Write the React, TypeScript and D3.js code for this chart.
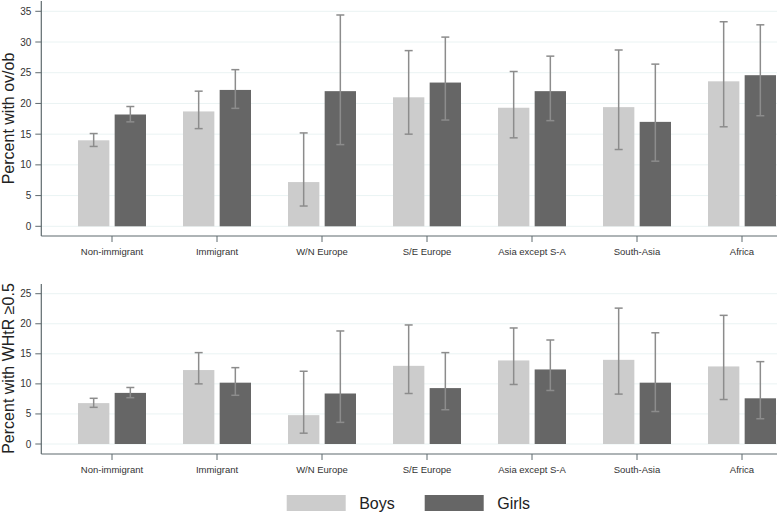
import React, { useEffect, useRef } from 'react';
import * as d3 from 'd3';

const categories = ['Non-immigrant', 'Immigrant', 'W/N Europe', 'S/E Europe', 'Asia except S-A', 'South-Asia', 'Africa'];
const seriesNames = ['Boys', 'Girls'];

// top panel, percent with ov/ob
const ovobBoys = [14.0, 18.7, 7.2, 21.0, 19.3, 19.4, 23.6];
const ovobBoysLow = [13.0, 15.9, 3.3, 15.0, 14.4, 12.5, 16.2];
const ovobBoysHigh = [15.1, 22.0, 15.2, 28.6, 25.2, 28.7, 33.3];
const ovobGirls = [18.2, 22.2, 22.0, 23.4, 22.0, 17.0, 24.6];
const ovobGirlsLow = [17.0, 19.2, 13.3, 17.3, 17.2, 10.6, 18.0];
const ovobGirlsHigh = [19.5, 25.5, 34.4, 30.8, 27.7, 26.4, 32.8];
const ovobTicks = [0, 5, 10, 15, 20, 25, 30, 35];

// bottom panel, percent with WHtR >= 0.5
const whtrBoys = [6.8, 12.3, 4.8, 13.0, 13.9, 14.0, 12.9];
const whtrBoysLow = [6.1, 10.0, 1.8, 8.4, 9.9, 8.3, 7.4];
const whtrBoysHigh = [7.6, 15.2, 12.1, 19.8, 19.3, 22.6, 21.4];
const whtrGirls = [8.5, 10.2, 8.4, 9.3, 12.4, 10.2, 7.6];
const whtrGirlsLow = [7.7, 8.1, 3.6, 5.7, 8.9, 5.4, 4.2];
const whtrGirlsHigh = [9.4, 12.7, 18.8, 15.2, 17.3, 18.5, 13.7];
const whtrTicks = [0, 5, 10, 15, 20, 25];

const width = 777;
const height = 514;
const fontFamily = '"Liberation Sans", Arial, sans-serif';
const colors = ['#cccccc', '#666666'];
const axisColor = '#5f6a6e';
const textColor = '#333333';
const whiskerColor = '#8c8c8c';
const gridColor = '#eaf3f3';

interface Panel {
  title: string;
  ticks: number[];
  domainMax: number;
  y0: number; // pixel of value 0
  yMax: number; // pixel of domainMax
  axisY: number;
  axisTop: number;
  titleY: number;
  series: { value: number[]; low: number[]; high: number[] }[];
}

const panels: Panel[] = [
  {
    title: 'Percent with ov/ob',
    ticks: ovobTicks,
    domainMax: 35,
    y0: 226.3,
    yMax: 11.3,
    axisY: 236,
    axisTop: 1,
    titleY: 118.5,
    series: [
      { value: ovobBoys, low: ovobBoysLow, high: ovobBoysHigh },
      { value: ovobGirls, low: ovobGirlsLow, high: ovobGirlsHigh },
    ],
  },
  {
    title: 'Percent with WHtR ≥0.5',
    ticks: whtrTicks,
    domainMax: 25,
    y0: 444,
    yMax: 293.7,
    axisY: 454,
    axisTop: 284,
    titleY: 368.5,
    series: [
      { value: whtrBoys, low: whtrBoysLow, high: whtrBoysHigh },
      { value: whtrGirls, low: whtrGirlsLow, high: whtrGirlsHigh },
    ],
  },
];

const App: React.FC = () => {
  const svgRef = useRef<SVGSVGElement>(null);

  useEffect(() => {
    if (!svgRef.current) return;

    const svg = d3.select(svgRef.current);
    svg.selectAll('*').remove();

    const axisX = 41.3;

    // 105px per category, first centre at 112
    const x = d3.scaleBand<string>()
      .domain(categories)
      .range([59.5, 794.5])
      .paddingInner(0)
      .paddingOuter(0);

    const inner = d3.scaleBand<string>()
      .domain(seriesNames)
      .range([x.bandwidth() / 2 - 34, x.bandwidth() / 2 + 34])
      .paddingInner(0.145)
      .paddingOuter(0);

    panels.forEach((panel) => {
      const y = d3.scaleLinear()
        .domain([0, panel.domainMax])
        .range([panel.y0, panel.yMax]);

      const g = svg.append('g');

      // Gridlines
      g.selectAll('.grid')
        .data(panel.ticks)
        .enter()
        .append('line')
        .attr('x1', axisX)
        .attr('x2', width)
        .attr('y1', (d) => y(d))
        .attr('y2', (d) => y(d))
        .style('stroke', gridColor)
        .style('stroke-width', 1);

      // Bars
      panel.series.forEach((s, si) => {
        const name = seriesNames[si];
        g.selectAll(`.bar-${si}`)
          .data(categories)
          .enter()
          .append('rect')
          .attr('x', (c) => (x(c) as number) + (inner(name) as number))
          .attr('width', inner.bandwidth())
          .attr('y', (_, i) => y(s.value[i]))
          .attr('height', (_, i) => y(0) - y(s.value[i]))
          .style('fill', colors[si]);
      });

      // Error bars
      panel.series.forEach((s, si) => {
        const name = seriesNames[si];
        const cx = (c: string) => (x(c) as number) + (inner(name) as number) + inner.bandwidth() / 2;
        const whisker = g.selectAll(`.whisker-${si}`)
          .data(categories)
          .enter()
          .append('g')
          .style('stroke', whiskerColor)
          .style('stroke-width', 1.5);

        whisker.append('line')
          .attr('x1', (c) => cx(c))
          .attr('x2', (c) => cx(c))
          .attr('y1', (_, i) => y(s.low[i]))
          .attr('y2', (_, i) => y(s.high[i]));
        whisker.append('line')
          .attr('x1', (c) => cx(c) - 4)
          .attr('x2', (c) => cx(c) + 4)
          .attr('y1', (_, i) => y(s.low[i]))
          .attr('y2', (_, i) => y(s.low[i]));
        whisker.append('line')
          .attr('x1', (c) => cx(c) - 4)
          .attr('x2', (c) => cx(c) + 4)
          .attr('y1', (_, i) => y(s.high[i]))
          .attr('y2', (_, i) => y(s.high[i]));
      });

      // Y axis
      g.append('line')
        .attr('x1', axisX)
        .attr('x2', axisX)
        .attr('y1', panel.axisTop)
        .attr('y2', panel.axisY)
        .style('stroke', axisColor)
        .style('stroke-width', 1.2);

      g.selectAll('.ytick')
        .data(panel.ticks)
        .enter()
        .append('line')
        .attr('x1', axisX - 6)
        .attr('x2', axisX)
        .attr('y1', (d) => y(d))
        .attr('y2', (d) => y(d))
        .style('stroke', axisColor)
        .style('stroke-width', 1);

      g.selectAll('.ylabel')
        .data(panel.ticks)
        .enter()
        .append('text')
        .attr('x', axisX - 10)
        .attr('y', (d) => y(d))
        .attr('dy', '0.35em')
        .style('text-anchor', 'end')
        .style('font-size', '10px')
        .style('fill', textColor)
        .text((d) => d);

      // X axis
      g.append('line')
        .attr('x1', axisX)
        .attr('x2', width)
        .attr('y1', panel.axisY)
        .attr('y2', panel.axisY)
        .style('stroke', axisColor)
        .style('stroke-width', 1.2);

      g.selectAll('.xtick')
        .data(categories)
        .enter()
        .append('line')
        .attr('x1', (c) => (x(c) as number) + x.bandwidth() / 2)
        .attr('x2', (c) => (x(c) as number) + x.bandwidth() / 2)
        .attr('y1', panel.axisY)
        .attr('y2', panel.axisY + 6)
        .style('stroke', axisColor)
        .style('stroke-width', 1);

      g.selectAll('.xlabel')
        .data(categories)
        .enter()
        .append('text')
        .attr('x', (c) => (x(c) as number) + x.bandwidth() / 2)
        .attr('y', panel.axisY + 19)
        .style('text-anchor', 'middle')
        .style('font-size', '9.5px')
        .style('fill', textColor)
        .text((c) => c);

      // Y title
      g.append('text')
        .attr('transform', `translate(13.5,${panel.titleY}) rotate(-90)`)
        .style('text-anchor', 'middle')
        .style('font-size', '16px')
        .style('fill', '#222222')
        .text(panel.title);
    });

    // Legend
    const legendX = [286.7, 424.7];
    const legend = svg.selectAll('.legend')
      .data(seriesNames)
      .enter()
      .append('g')
      .attr('transform', (_, i) => `translate(${legendX[i]},495)`);

    legend.append('rect')
      .attr('width', 59)
      .attr('height', 16)
      .style('fill', (_, i) => colors[i]);

    legend.append('text')
      .attr('x', 72.5)
      .attr('y', 14)
      .style('font-size', '16px')
      .style('fill', '#222222')
      .text((d) => d);
  }, []);

  return (
    <svg
      ref={svgRef}
      width={width}
      height={height}
      style={{ position: 'absolute', left: 0, top: 0, background: '#fff', fontFamily }}
    />
  );
};

export default App;
